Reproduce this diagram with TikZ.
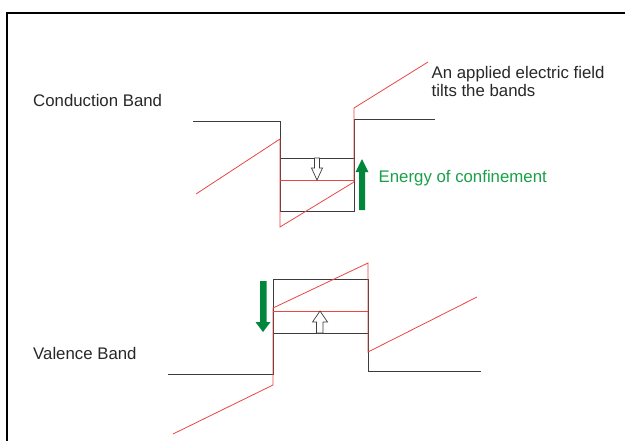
\documentclass[tikz,border=0pt]{standalone}
\usepackage{fontspec}
\setmainfont{Liberation Sans}
\definecolor{bandblack}{RGB}{60,60,60}
\definecolor{bandred}{RGB}{235,70,70}
\definecolor{arrgreen}{RGB}{0,135,60}
\definecolor{txtgreen}{RGB}{25,160,75}
\definecolor{txtgray}{RGB}{40,40,40}
\tikzset{
  band/.style={draw=bandblack, line width=0.9pt},
  tilt/.style={draw=bandred, line width=0.8pt},
  hollow/.style={draw=bandblack, fill=white, line width=0.7pt},
  greenarr/.style={fill=arrgreen, draw=none},
  lbl/.style={anchor=base west, inner sep=0pt, text=txtgray, font=\fontsize{16.8}{18}\selectfont},
  glbl/.style={anchor=base west, inner sep=0pt, text=txtgreen, font=\fontsize{16.8}{18}\selectfont}
}
\begin{document}
\begin{tikzpicture}[x=1pt,y=-1pt]
\useasboundingbox (0,0) rectangle (625,440);
\fill[white] (0,0) rectangle (625,440);
% frame
\draw[line width=2pt, black] (7,441) -- (7,13) -- (626,13);

% ---- Conduction band ----
\draw[band] (193,121) -- (280,121) -- (280,211) -- (354,211) -- (354,119) -- (435,119);
\draw[band] (280,158) -- (354,158);
\draw[tilt] (280,180) -- (354,180);
\draw[tilt] (196,194) -- (280,139) -- (280,227) -- (354,182) -- (354,108) -- (428,62);
% hollow down arrow
\draw[hollow] (314.5,158) -- (319.5,158) -- (319.5,168) -- (322.5,168) -- (317,180) -- (311.5,168) -- (314.5,168) -- cycle;
% green up arrow
\fill[greenarr] (359,210) -- (365,210) -- (365,172) -- (368.5,172) -- (362,159) -- (355.5,172) -- (359,172) -- cycle;

% ---- Valence band ----
\draw[band] (168,374) -- (273,374) -- (273,279) -- (368,279) -- (368,371) -- (481,371);
\draw[band] (273,333) -- (368,333);
\draw[tilt] (273,311) -- (368,311);
\draw[tilt] (173,434) -- (273,385) -- (273,308) -- (368,263) -- (368,352) -- (477,297);
% hollow up arrow
\draw[hollow] (316.5,333) -- (323,333) -- (323,322) -- (327.5,322) -- (320,311) -- (312.5,322) -- (316.5,322) -- cycle;
% green down arrow
\fill[greenarr] (260,281) -- (266.5,281) -- (266.5,322) -- (270.5,322) -- (263,332) -- (255.5,322) -- (260,322) -- cycle;

% ---- Labels ----
\node[lbl] (cb) at (33,106) {Conduction Band};
\node[lbl] (vb) at (33,359) {Valence Band};
\node[lbl] (f1) at (431.5,78) {An applied electric field};
\node[lbl] (f2) at (431.5,96) {tilts the bands};
\node[glbl] (ec) at (378.5,182.5) {Energy of confinement};
\end{tikzpicture}
\end{document}
